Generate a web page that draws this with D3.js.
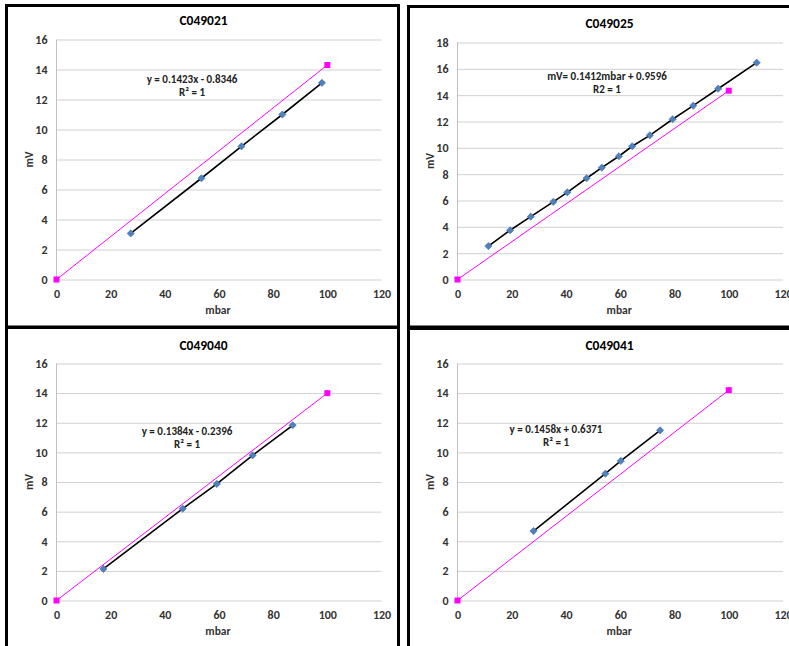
<!DOCTYPE html>
<html>
<head>
<meta charset="utf-8">
<script src="https://cdn.jsdelivr.net/npm/d3@7/dist/d3.min.js"></script>
<style>
  html, body { margin: 0; padding: 0; background: #fff; }
  svg { display: block; font-family: Carlito, Calibri, Lato, "Open Sans", sans-serif; }
</style>
</head>
<body>
<svg id="chart" width="789" height="646"></svg>
<script>
// ---- data ----
const titles = ["C049021", "C049025", "C049040", "C049041"];
const equations = ["y = 0.1423x - 0.8346", "mV= 0.1412mbar + 0.9596", "y = 0.1384x - 0.2396", "y = 0.1458x + 0.6371"];
const r2Labels = ["R\u00B2 = 1", "R2 = 1", "R\u00B2 = 1", "R\u00B2 = 1"];
const xTicks = [0, 20, 40, 60, 80, 100, 120];
const yMaxes = [16, 18, 16, 16];

const mbar021 = [27.4, 53.5, 68.3, 83.4, 98.0];
const mv021   = [3.07, 6.75, 8.88, 11.0, 13.11];
const mbar025 = [11.4, 19.4, 27.0, 35.3, 40.5, 47.6, 53.2, 59.5, 64.4, 70.9, 79.3, 86.9, 96.1, 110.3];
const mv025   = [2.54, 3.74, 4.77, 5.89, 6.62, 7.69, 8.49, 9.36, 10.12, 10.95, 12.17, 13.2, 14.49, 16.47];
const mbar040 = [17.3, 46.6, 59.2, 72.4, 87.2];
const mv040   = [2.13, 6.2, 7.87, 9.8, 11.83];
const mbar041 = [28.0, 54.5, 60.2, 74.7];
const mv041   = [4.69, 8.56, 9.42, 11.49];

const refMbar = [0, 100];
const ref021 = [0, 14.3];
const ref025 = [0, 14.34];
const ref040 = [0, 14.0];
const ref041 = [0, 14.2];

// ---- build panels from data + layout ----
const series = [[mbar021, mv021], [mbar025, mv025], [mbar040, mv040], [mbar041, mv041]];
const refs = [ref021, ref025, ref040, ref041];
const layouts = [
  { bx: 6.5,   by: 5.5, bw: 392, bh: 322, left: 56.5,  right: 381.5, top: 39.5,  bottom: 279.5, titleY: 25,  eqX: 192, eqY: 83,  r2Y: 96 },
  { bx: 408.5, by: 6.5, bw: 400, bh: 322, left: 457.5, right: 783,   top: 42.5,  bottom: 279.5, titleY: 27.5, eqX: 607, eqY: 80,  r2Y: 93 },
  { bx: 6.5,   by: 327, bw: 392, bh: 340, left: 56.5,  right: 381.5, top: 363.5, bottom: 600.5, titleY: 349.5, eqX: 187, eqY: 435, r2Y: 448 },
  { bx: 408.5, by: 327, bw: 400, bh: 340, left: 457.5, right: 783,   top: 363.5, bottom: 600.5, titleY: 349.5, eqX: 556, eqY: 433, r2Y: 446 }
];

const svg = d3.select("#chart");
svg.append("rect").attr("width", 789).attr("height", 646).attr("fill", "#fff");

const diamond = "M0,-3.6L3.6,0L0,3.6L-3.6,0Z";

titles.forEach((title, i) => {
  const L = layouts[i];
  const g = svg.append("g");
  const x = d3.scaleLinear().domain([0, 120]).range([L.left, L.right]);
  const y = d3.scaleLinear().domain([0, yMaxes[i]]).range([L.bottom, L.top]);
  const yTicks = d3.range(0, yMaxes[i] + 1, 2);

  // y axis with gridlines
  const ya = g.append("g").attr("transform", `translate(${L.left},0)`)
    .call(d3.axisLeft(y).tickValues(yTicks).tickSizeInner(-(L.right - L.left)).tickSizeOuter(0).tickPadding(9));
  ya.select(".domain").remove();
  ya.selectAll(".tick line").attr("stroke", "#d0d0d0").attr("stroke-width", 1);
  ya.selectAll(".tick text").attr("fill", "#333").attr("font-size", 12).attr("font-weight", "bold")
    .attr("font-family", "Carlito, Calibri, Lato, sans-serif");

  // vertical axis line
  g.append("line").attr("x1", L.left).attr("x2", L.left).attr("y1", y(yMaxes[i])).attr("y2", y(0))
    .attr("stroke", "#c0c0c0").attr("stroke-width", 1);

  // x axis
  const xa = g.append("g").attr("transform", `translate(0,${L.bottom})`)
    .call(d3.axisBottom(x).tickValues(xTicks).tickSize(0).tickPadding(10));
  xa.select(".domain").remove();
  xa.selectAll(".tick text").attr("fill", "#333").attr("font-size", 12).attr("font-weight", "bold")
    .attr("font-family", "Carlito, Calibri, Lato, sans-serif");

  // title
  g.append("text").attr("x", (L.bx + L.bx + L.bw) / 2 + 1).attr("y", L.titleY).attr("text-anchor", "middle")
    .attr("font-size", 13.5).attr("font-weight", "bold").attr("fill", "#000").text(title);

  // axis titles
  g.append("text").attr("x", (L.left + L.right) / 2 - 1).attr("y", L.bottom + 34).attr("text-anchor", "middle")
    .attr("font-size", 11.5).attr("font-weight", "bold").attr("fill", "#333").text("mbar");
  g.append("text").attr("transform", `translate(${L.left - 24},${(L.top + L.bottom) / 2}) rotate(-90)`)
    .attr("text-anchor", "middle").attr("font-size", 11.5).attr("font-weight", "bold").attr("fill", "#333").text("mV");

  // equation
  g.append("text").attr("x", L.eqX).attr("y", L.eqY).attr("text-anchor", "middle")
    .attr("font-size", 11).attr("font-weight", "bold").attr("fill", "#222").text(equations[i]);
  g.append("text").attr("x", L.eqX).attr("y", L.r2Y).attr("text-anchor", "middle")
    .attr("font-size", 11).attr("font-weight", "bold").attr("fill", "#222").text(r2Labels[i]);

  // measured series
  const [xs, ys] = series[i];
  const pts = xs.map((v, k) => [v, ys[k]]);
  const line = d3.line().x(d => x(d[0])).y(d => y(d[1]));
  g.append("path").attr("d", line(pts)).attr("fill", "none").attr("stroke", "#000").attr("stroke-width", 1.6);
  g.selectAll(".pt").data(pts).join("path").attr("class", "pt")
    .attr("transform", d => `translate(${x(d[0])},${y(d[1])})`)
    .attr("d", diamond).attr("fill", "#4f81bd").attr("stroke", "#3a6aa6").attr("stroke-width", 0.6);

  // reference series
  const rpts = refMbar.map((v, k) => [v, refs[i][k]]);
  g.append("path").attr("d", line(rpts)).attr("fill", "none").attr("stroke", "#ff00ff").attr("stroke-width", 1);
  g.selectAll(".rp").data(rpts).join("rect").attr("class", "rp")
    .attr("x", d => x(d[0]) - 3).attr("y", d => y(d[1]) - 3).attr("width", 6).attr("height", 6)
    .attr("fill", "#ff00ff");

  // panel border
  svg.append("rect").attr("x", L.bx).attr("y", L.by).attr("width", L.bw).attr("height", L.bh)
    .attr("fill", "none").attr("stroke", "#000").attr("stroke-width", 3);
});
</script>
</body>
</html>
